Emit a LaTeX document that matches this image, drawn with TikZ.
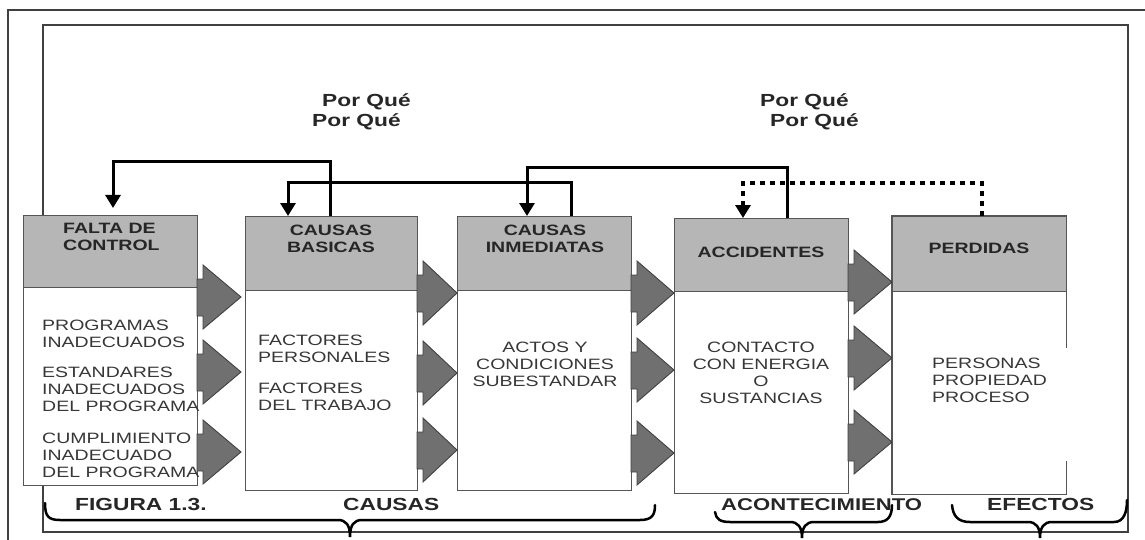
\documentclass[tikz,border=0pt]{standalone}
\usepackage{fontspec}
\setmainfont{Liberation Sans}[FakeStretch=1.3]
\usetikzlibrary{arrows.meta,calc}
\definecolor{hdrgray}{RGB}{182,182,182}
\definecolor{linegray}{RGB}{85,85,85}
\definecolor{trigray}{RGB}{112,112,112}
\definecolor{txtgray}{RGB}{55,55,55}
\definecolor{darktxt}{RGB}{38,38,38}
\newcommand\arrtri[3]{%
  \filldraw[tri] (#1+6,#2-32) -- (#3,#2) -- (#1+6,#2+32) -- (#1+6,#2+19) -- (#1,#2+19) -- (#1,#2-18) -- (#1+6,#2-18) -- cycle;}
\tikzset{
  boxbody/.style={draw=linegray, fill=white, line width=1.3pt, anchor=north west, inner sep=0pt},
  hdr/.style={fill=hdrgray, draw=linegray, line width=1.3pt, anchor=north west, inner sep=0pt},
  htxt/.style={font=\fontsize{15}{17}\selectfont\bfseries, text=darktxt, inner sep=0pt, anchor=north},
  btxt/.style={font=\fontsize{15}{17}\selectfont, text=txtgray, inner sep=0pt, anchor=north west},
  lbl/.style={font=\fontsize{17.5}{20}\selectfont\bfseries, text=darktxt, inner sep=0pt, anchor=north west},
  conn/.style={line width=3pt, -{Triangle[length=13pt,width=15pt]}},
  tri/.style={fill=trigray, draw=black!75, line width=0.9pt, line join=miter},
  brace/.style={line width=2.5pt, line cap=round},
  frame/.style={draw=black!75, line width=1.5pt}
}
\begin{document}
\begin{tikzpicture}[x=1pt,y=-1pt]
\useasboundingbox (0,0) rectangle (1145,540);
% frames
\draw[frame] (8,545) -- (8,10) -- (1150,10);
\draw[frame, line width=2pt] (43,25) rectangle (1128,532);
% bodies
\node[boxbody, minimum width=174, minimum height=270] (b1) at (23,215) {};
\node[boxbody, minimum width=172, minimum height=274] (b2) at (245,216) {};
\node[boxbody, minimum width=174, minimum height=274] (b3) at (457,216) {};
\node[boxbody, minimum width=174, minimum height=275] (b4) at (674,218) {};
\node[boxbody, draw=none, minimum width=173, minimum height=277] (b5) at (892,216) {};
% headers
\node[hdr, minimum width=174, minimum height=72] (h1) at (23,215) {};
\node[hdr, minimum width=172, minimum height=74] (h2) at (245,216) {};
\node[hdr, minimum width=174, minimum height=74] (h3) at (457,216) {};
\node[hdr, minimum width=174, minimum height=73] (h4) at (674,218) {};
\node[hdr, draw=none, minimum width=173, minimum height=74] (h5) at (892,216) {};
\draw[draw=linegray, line width=1.3pt] (h5.south west) -- (h5.south east);
\draw[draw=linegray, line width=1.3pt] ($(b5.north east)+(0,132)$) |- (b5.north west) |- (b5.south east) -- ++(0,-33);
% header texts
\node[htxt, align=left, anchor=north west] (t1) at (63,223) {FALTA DE\\CONTROL};
\node[htxt, align=center] (t2) at (331,225) {CAUSAS\\BASICAS};
\node[htxt, align=center] (t3) at (545,225) {CAUSAS\\INMEDIATAS};
\node[htxt] (t4) at (761,247) {ACCIDENTES};
\node[htxt] (t5) at (979,243) {PERDIDAS};
% body texts
\node[btxt, align=left] (p1) at (42,320) {PROGRAMAS\\INADECUADOS};
\node[btxt, align=left] (p2) at (42,367) {ESTANDARES\\INADECUADOS\\DEL PROGRAMA};
\node[btxt, align=left] (p3) at (42,433) {CUMPLIMIENTO\\INADECUADO\\DEL PROGRAMA};
\node[btxt, align=left] (q1) at (258,335) {FACTORES\\PERSONALES};
\node[btxt, align=left] (q2) at (258,383) {FACTORES\\DEL TRABAJO};
\node[btxt, align=center, anchor=north] (r1) at (545,342) {ACTOS Y\\CONDICIONES\\SUBESTANDAR};
\node[btxt, align=center, anchor=north] (s1) at (761,342) {CONTACTO\\CON ENERGIA\\O\\SUSTANCIAS};
\node[btxt, align=left] (u1) at (932,358) {PERSONAS\\PROPIEDAD\\PROCESO};
% gray arrow triangles
\arrtri{197}{297}{241}\arrtri{197}{372}{241}\arrtri{197}{452}{241}
\arrtri{417}{293}{457}\arrtri{417}{373}{457}\arrtri{417}{450}{457}
\arrtri{631}{293}{674}\arrtri{631}{370}{674}\arrtri{631}{453}{674}
\arrtri{848}{282}{892}\arrtri{848}{358}{892}\arrtri{848}{442}{892}
% Por Que
\node[lbl] (w1) at (322,93) {Por Qué};
\node[lbl] (w2) at (312,113) {Por Qué};
\node[lbl] (w3) at (760,93) {Por Qué};
\node[lbl] (w4) at (770,113) {Por Qué};
% connectors
\coordinate (c1s) at ($(b2.north west)+(85,0)$);
\coordinate (c1e) at ($(b1.north west)+(90,0)$);
\coordinate (c2s) at ($(b3.north west)+(114,0)$);
\coordinate (c2e) at ($(b2.north west)+(43,0)$);
\coordinate (c3s) at ($(b4.north west)+(113,0)$);
\coordinate (c3e) at ($(b3.north west)+(70,0)$);
\coordinate (c4s) at ($(b5.north west)+(90,0)$);
\coordinate (c4e) at ($(b4.north west)+(69,0)$);
\draw[conn, shorten >=7pt] (c1s) -- ++(0,-54) -| (c1e);
\draw[conn] (c2s) -- ++(0,-33) -| (c2e);
\draw[conn] (c3s) -- ++(0,-50) -| (c3e);
\draw[conn, line width=3.5pt, dash pattern=on 5pt off 5pt] (c4s) -- ++(0,-33) -| (c4e);
% bottom labels
\node[lbl] (l1) at (75,498) {FIGURA 1.3.};
\node[lbl] (l2) at (343,498) {CAUSAS};
\node[lbl, font=\fontsize{17}{20}\selectfont\bfseries] (l3) at (721,498) {ACONTECIMIENTO};
\node[lbl] (l4) at (987,498) {EFECTOS};
% braces
\draw[brace] (45,503) .. controls (45,516) and (48,520) .. (60,520) -- (338,520)
  .. controls (346,520) and (350,525) .. (350,537) .. controls (350,525) and (354,520) .. (362,520)
  -- (640,520) .. controls (652,520) and (655,515) .. (655,505);
\draw[brace] (715,512) .. controls (716,519) and (720,522) .. (730,522) -- (790,522)
  .. controls (798,522) and (802,527) .. (802,538) .. controls (802,527) and (806,522) .. (814,522)
  -- (878,522) .. controls (888,522) and (892,516) .. (892,505);
\draw[brace] (952,505) .. controls (953,516) and (958,522) .. (970,522) -- (1028,522)
  .. controls (1036,522) and (1040,527) .. (1040,538) .. controls (1040,527) and (1044,522) .. (1052,522)
  -- (1114,522) .. controls (1124,522) and (1127,512) .. (1127,500);
\end{tikzpicture}
\end{document}
